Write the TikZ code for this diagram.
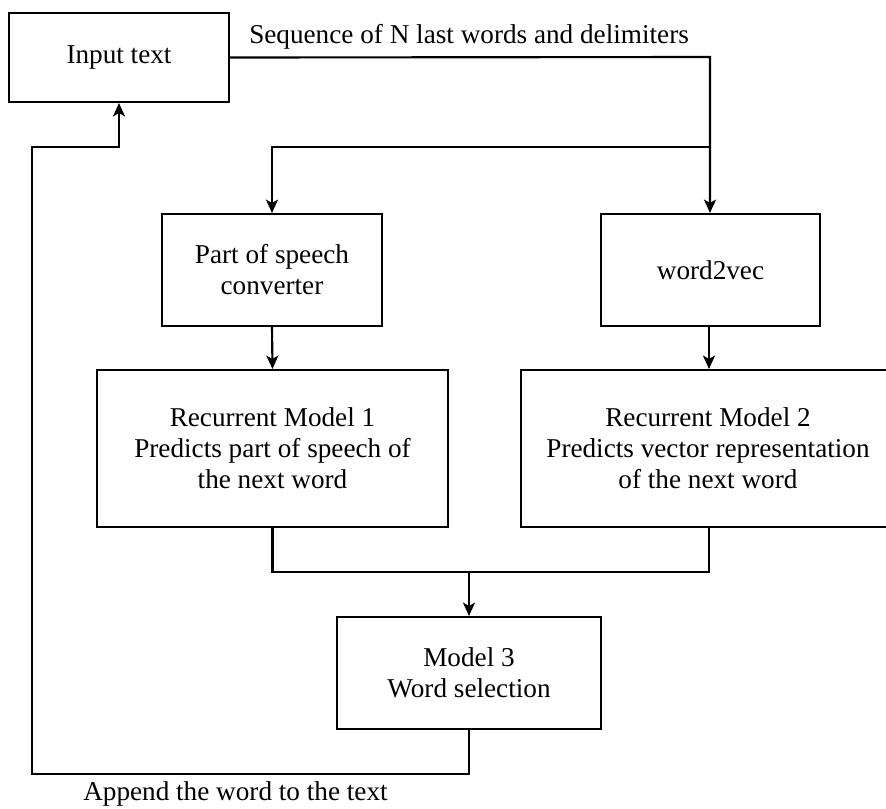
\documentclass[tikz,border=0pt]{standalone}
\usepackage{fontspec}
\setmainfont{Liberation Serif}
\usetikzlibrary{arrows.meta,positioning}

\tikzset{
  block/.style={draw=black, line width=1.6pt, align=center, inner sep=0pt, fill=white},
  flow/.style={-{Stealth[length=10pt,width=9pt,inset=2.5pt]}, line width=1.6pt},
  link/.style={line width=1.6pt}
}

\begin{document}
\begin{tikzpicture}[x=0.75pt, y=-0.75pt, font=\fontsize{20.4}{23.3}\selectfont]
        % frame
        \useasboundingbox (0,0) rectangle (886,808);

        % blocks
        \node[block, minimum width=165pt, minimum height=66.75pt] (input) at (119,57.5) {Input text};
        \node[block, minimum width=165pt, minimum height=84pt] (pos) at (272,270) {Part of speech\\converter};
        \node[block, minimum width=164.25pt, minimum height=84pt] (w2v) at (710.5,270) {word2vec};
        \node[block, minimum width=263.25pt, minimum height=117.75pt] (rm1) at (272.5,448.5) {Recurrent Model 1\\Predicts part of speech of\\the next word};
        \node[block, minimum width=280.5pt, minimum height=117.75pt] (rm2) at (708,448.5) {Recurrent Model 2\\Predicts vector representation\\of the next word};
        \node[block, minimum width=198pt, minimum height=84pt] (m3) at (469,673) {Model 3\\Word selection};

        % bends
        \coordinate (corner) at (710,57);
        \coordinate (split) at (710,147);
        \coordinate (merge) at (469,572);
        \coordinate (rm2out) at (709,527);
        \coordinate (loopbot) at (32,774);
        \coordinate (looptop) at (32,147);

        % input to converters
        \draw[flow] (input.east) -- (corner) -- (w2v.north -| corner);
        \draw[flow] (split) -| (pos.north);

        % converters to models
        \draw[flow] (pos.south) -- (rm1.north);
        \draw[flow] (w2v.south -| rm2out) -- (rm2.north -| rm2out);

        % models to selection
        \draw[link] (rm1.south) |- (merge);
        \draw[link] (rm2out) |- (merge);
        \draw[flow] (merge) -- (m3.north);

        % feedback
        \draw[flow] (m3.south) |- (loopbot) -- (looptop) -| (input.south);

        % labels
        \node[anchor=base west, inner sep=0pt] (seqlabel) at (249,43) {Sequence of N last words and delimiters};
        \node[anchor=base west, inner sep=0pt] (applabel) at (83,800) {Append the word to the text};
\end{tikzpicture}
\end{document}
